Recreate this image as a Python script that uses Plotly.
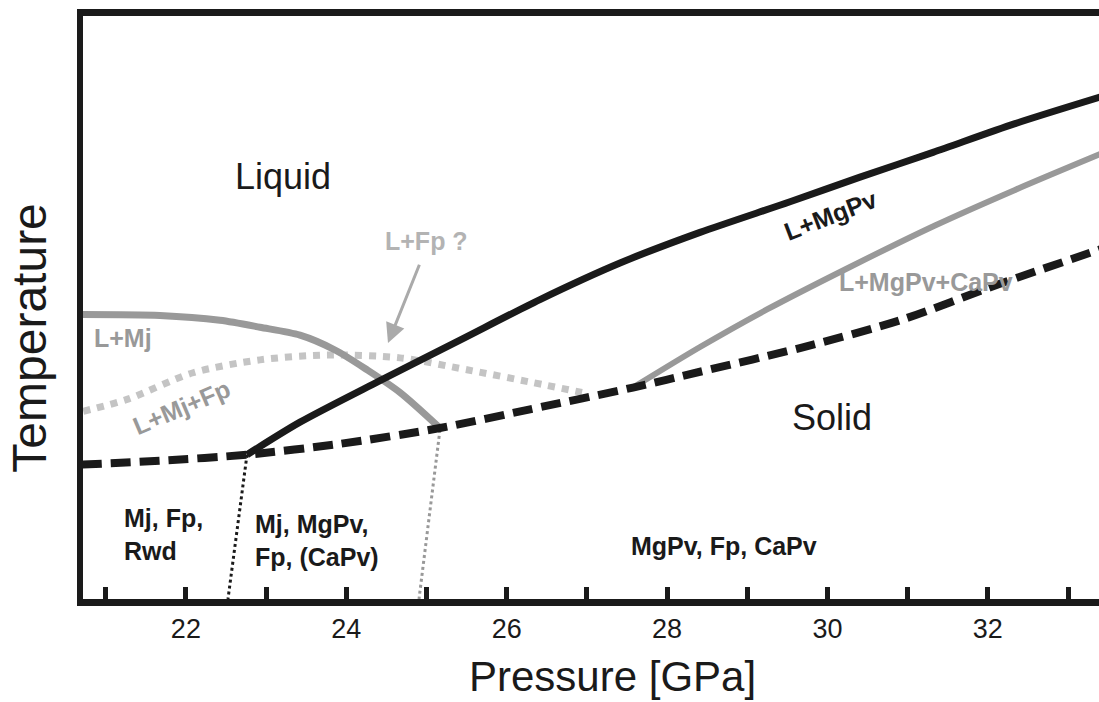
import plotly.graph_objects as go

# ---- data (pressure in GPa, temperature in arbitrary units 0-100) ----
solidus_p = [20.70, 21.677, 22.762, 23.921, 25.168, 26.291, 27.575, 28.411, 29.657, 30.904, 32.151, 33.45]
solidus_t = [23.05, 23.73, 24.75, 26.61, 29.32, 32.54, 36.27, 38.98, 43.05, 47.80, 54.07, 60.2]

mgpv_p = [22.762, 23.423, 24.420, 25.418, 26.415, 27.413, 28.411, 29.533, 30.406, 31.316, 32.339, 33.45]
mgpv_t = [24.75, 30.34, 37.46, 44.41, 51.36, 57.63, 62.88, 68.14, 72.37, 76.61, 81.53, 86.3]

mj_p = [20.70, 21.677, 22.425, 22.924, 23.423, 23.859, 24.258, 24.670, 25.168]
mj_t = [48.81, 48.64, 47.80, 46.61, 45.25, 42.71, 39.32, 35.42, 29.32]

fp_p = [20.72, 21.266, 22.089, 22.924, 23.759, 24.670, 25.505, 26.328, 26.939]
fp_t = [32.20, 34.24, 38.81, 41.02, 41.86, 41.36, 39.32, 37.12, 35.42]

capv_p = [27.575, 28.411, 29.246, 30.256, 31.341, 32.339, 33.45]
capv_t = [36.27, 43.22, 49.66, 56.78, 64.07, 70.17, 76.6]

bnd1_p = [22.762, 22.675, 22.587, 22.525]
bnd1_t = [24.75, 15.59, 7.12, 0.0]

bnd2_p = [25.168, 25.044, 24.907]
bnd2_t = [29.0, 14.75, 0.0]

tick_vals = list(range(21, 34))
tick_text = [str(v) if v % 2 == 0 else "" for v in tick_vals]

BLACK = "#1a1a1a"
GRAY = "#999999"
LIGHT = "#c4c4c4"
FONT = "Liberation Sans, Arial, sans-serif"

fig = go.Figure()

def line(x, y, color, width, dash="solid", shape="spline"):
    fig.add_trace(go.Scatter(x=x, y=y, mode="lines", hoverinfo="skip",
                             line=dict(color=color, width=width, dash=dash,
                                       shape=shape, smoothing=0.8),
                             showlegend=False))

line(fp_p, fp_t, LIGHT, 7, dash="7px,7px")
line(mj_p, mj_t, GRAY, 7)
line(capv_p, capv_t, GRAY, 6)
line(bnd1_p, bnd1_t, BLACK, 3, dash="3px,3px", shape="linear")
line(bnd2_p, bnd2_t, GRAY, 3, dash="3px,3px", shape="linear")
line(mgpv_p, mgpv_t, BLACK, 7)
line(solidus_p, solidus_t, BLACK, 8, dash="20px,9px")

def label(x, y, text, size, color=BLACK, bold=False, angle=0, xanchor="center", align="center"):
    t = f"<b>{text}</b>" if bold else text
    fig.add_annotation(x=x, y=y, text=t, showarrow=False, textangle=angle,
                       xanchor=xanchor, yanchor="middle", align=align,
                       font=dict(family=FONT, size=size, color=color))

label(23.211, 72.4, "Liquid", 36)
label(30.056, 31.2, "Solid", 36)
label(30.044, 65.9, "L+MgPv", 25, bold=True, angle=-21)
label(31.23, 54.4, "L+MgPv+CaPv", 25, color=GRAY, bold=True)
label(20.829, 44.75, "L+Mj", 25, color=GRAY, bold=True, xanchor="left")
label(21.95, 33.0, "L+Mj+Fp", 25, color=GRAY, bold=True, angle=-23)
label(24.994, 61.4, "L+Fp ?", 25, color="#b3b3b3", bold=True)
label(21.203, 11.1, "Mj, Fp,<br>Rwd", 25, bold=True, xanchor="left", align="left")
label(22.837, 10.1, "Mj, MgPv,<br>Fp, (CaPv)", 25, bold=True, xanchor="left", align="left")
label(28.710, 9.15, "MgPv, Fp, CaPv", 25, bold=True)

# arrow pointing at L+Fp boundary
fig.add_annotation(x=24.52, y=43.9, ax=24.919, ay=57.6, xref="x", yref="y",
                   axref="x", ayref="y", text="", showarrow=True,
                   arrowhead=2, arrowsize=1.3, arrowwidth=3, arrowcolor="#aaaaaa")

# axis titles
fig.add_annotation(x=(612 - 83) / (1099 - 83), y=(599 - 676) / (599 - 16),
                   xref="paper", yref="paper",
                   text="Pressure [GPa]", showarrow=False, xanchor="center", yanchor="middle",
                   font=dict(family=FONT, size=42, color=BLACK))
fig.add_annotation(x=-0.0535, y=(599 - 338) / (599 - 16), xref="paper", yref="paper",
                   text="Temperature", showarrow=False, textangle=-90,
                   xanchor="center", yanchor="middle",
                   font=dict(family=FONT, size=48, color=BLACK))

fig.update_layout(
    width=1099, height=702,
    margin=dict(l=83, r=0, t=16, b=103),
    paper_bgcolor="white", plot_bgcolor="white",
    font=dict(family=FONT, color=BLACK),
)
fig.update_xaxes(range=[20.717, 33.386], showgrid=False, zeroline=False,
                 showline=True, linecolor=BLACK, linewidth=7, mirror=True,
                 ticks="inside", ticklen=12, tickwidth=5, tickcolor=BLACK,
                 tickvals=tick_vals, ticktext=tick_text,
                 tickfont=dict(family=FONT, size=27, color=BLACK))
fig.update_yaxes(range=[0, 100], showgrid=False, zeroline=False,
                 showline=True, linecolor=BLACK, linewidth=6,
                 ticks="", showticklabels=False)

fig.write_html("out.html")
